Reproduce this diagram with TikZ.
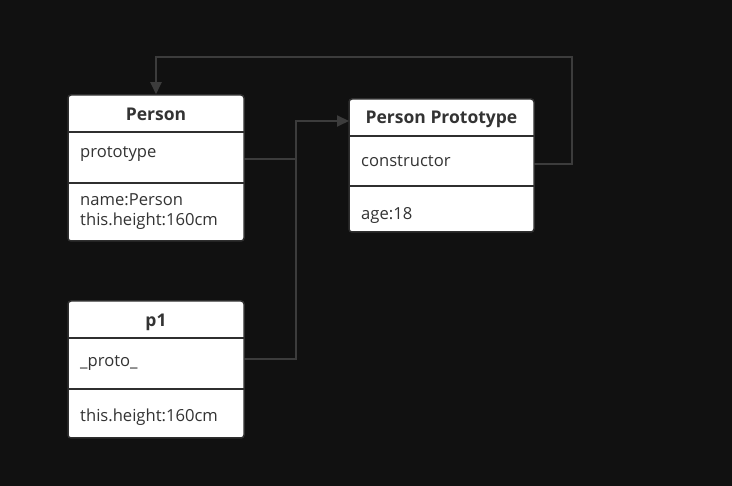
\documentclass[tikz,border=0pt]{standalone}
\usepackage{fontspec}
\setmainfont{Open Sans}
\usetikzlibrary{arrows.meta}
\definecolor{bg}{HTML}{111111}
\definecolor{ln}{HTML}{3C3C3C}
\definecolor{bd}{HTML}{2F2F2F}
\definecolor{tx}{HTML}{333333}
\tikzset{
  box/.style={draw=bd, line width=1.5pt, fill=white, rounded corners=3pt, inner sep=0pt},
  row/.style={inner sep=0pt, draw=none},
  div/.style={draw=bd, line width=2pt},
  title/.style={text=tx, font=\fontsize{17.5}{20}\selectfont\bfseries, inner sep=0pt},
  field/.style={text=tx, font=\fontsize{16.6}{20}\selectfont, inner sep=0pt, anchor=west, align=left},
  conn/.style={draw=ln, line width=2pt},
  tip/.style={-{Triangle[length=12pt,width=11pt]}}
}
\begin{document}
\begin{tikzpicture}[x=1pt,y=-1pt]
\fill[bg] (0,0) rectangle (732,486);
\useasboundingbox (0,0) rectangle (732,486);

% Person
\node[box, minimum width=176pt, minimum height=146pt] (person) at (156,168) {};
\draw[div] (68,132) -- (244,132);
\draw[div] (68,183) -- (244,183);
\node[title] (personT) at (156,114) {Person};
\node[row, minimum width=176pt, minimum height=51pt] (personRow) at (156,159) {};
\node[field] (personF1) at (80,154) {prototype};
\node[field] (personF2) at (80,212) {name:Person\\this.height:160cm};

% Person Prototype
\node[box, minimum width=185pt, minimum height=133pt] (proto) at (441.5,165.5) {};
\draw[div] (349,136) -- (534,136);
\draw[div] (349,186) -- (534,186);
\node[title] (protoT) at (441.5,119) {Person Prototype};
\node[row, minimum width=185pt, minimum height=50pt] (protoRow) at (441.5,164) {};
\node[field] (protoF1) at (361,161) {constructor};
\node[field] (protoF2) at (361,215) {age:18};

% p1
\node[box, minimum width=176pt, minimum height=137pt] (p1) at (156,369.5) {};
\draw[div] (68,338) -- (244,338);
\draw[div] (68,389) -- (244,389);
\node[title] (p1T) at (156,322) {p1};
\node[row, minimum width=176pt, minimum height=51pt] (p1Row) at (156,359) {};
\node[field] (p1F1) at (80,363) {\_proto\_};
\node[field] (p1F2) at (80,417) {this.height:160cm};

% connector helpers
\coordinate (jx) at (296,0);
\coordinate (rx) at (572,0);
\coordinate (ty) at (0,57);
\coordinate (pin) at (349,121);

% connectors
\draw[conn, tip] (personRow.east) -- (jx |- personRow.east) -- (jx |- pin) -- (pin);
\draw[conn] (p1Row.east) -- (jx |- p1Row.east) -- (jx |- personRow.east);
\draw[conn, tip] (protoRow.east) -- (rx |- protoRow.east) -- (rx |- ty) -- (person.north |- ty) -- (person.north);
\end{tikzpicture}
\end{document}
